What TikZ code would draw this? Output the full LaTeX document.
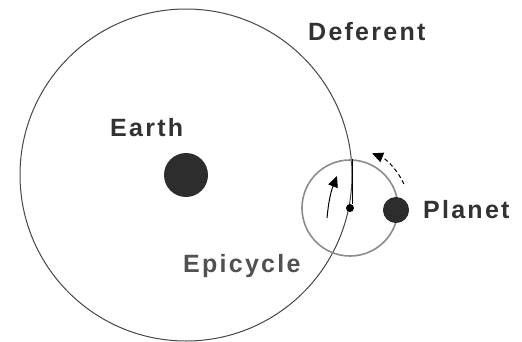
\documentclass[tikz,border=0pt]{standalone}
\usepackage{fontspec}
\setmainfont{Liberation Sans}
\usepackage{xcolor}
\usepackage{tikz}
\usetikzlibrary{
  arrows.meta,
  positioning
}
\definecolor{OrbitGray}{RGB}{70, 70, 70}
\definecolor{EpiGray}{RGB}{140, 140, 140}
\definecolor{BodyGray}{RGB}{45, 45, 45}
\definecolor{LabelGray}{RGB}{50, 50, 50}
\tikzset{
    labeltext/.style={font=\fontsize{25}{28}\selectfont\bfseries\addfontfeatures{LetterSpace=9},
        text=LabelGray, inner sep=0pt, anchor=base west},
    body/.style={circle, fill=BodyGray, inner sep=0pt},
    motion/.style={line width=1pt, black, -{Triangle[length=11pt, width=10pt]}},
}

\begin{document}
\begin{tikzpicture}[x=1pt, y=-1pt]
    \useasboundingbox (0,0) rectangle (522,341);
    % earth and deferent
    \node[body, minimum size=44pt] (earth) at (186,175) {};
    \draw[OrbitGray, line width=1pt] (earth.center) circle[radius=166];
    % epicycle
    \node[body, fill=black, minimum size=8pt] (epicenter) at (350,208) {};
    \draw[EpiGray, line width=1.6pt] (epicenter.center) circle[radius=48];
    \node[body, draw=black!85, line width=1pt, minimum size=25pt] (planet) at (396,210) {};
    \coordinate (crossing) at (352,159);
    \draw[black, line width=1pt] (crossing) -- (crossing |- epicenter.north);
    % motion arrows
    \coordinate (pushstart) at (327,218);
    \coordinate (pushend) at (337,176);
    \draw[motion] (pushstart) to[bend left=8] (pushend);
    \draw[motion, dash pattern=on 4pt off 3pt]
        ([shift={(-24:59)}]epicenter.center) arc[start angle=-24, end angle=-68, radius=59];
    % labels
    \node[labeltext] (deferentlabel) at (308,40) {Deferent};
    \node[labeltext] (earthlabel) at (110,136) {Earth};
    \node[labeltext, text=LabelGray!85] (epicyclelabel) at (183,272) {Epicycle};
    \node[labeltext] (planetlabel) at (423,218) {Planet};
\end{tikzpicture}
\end{document}
